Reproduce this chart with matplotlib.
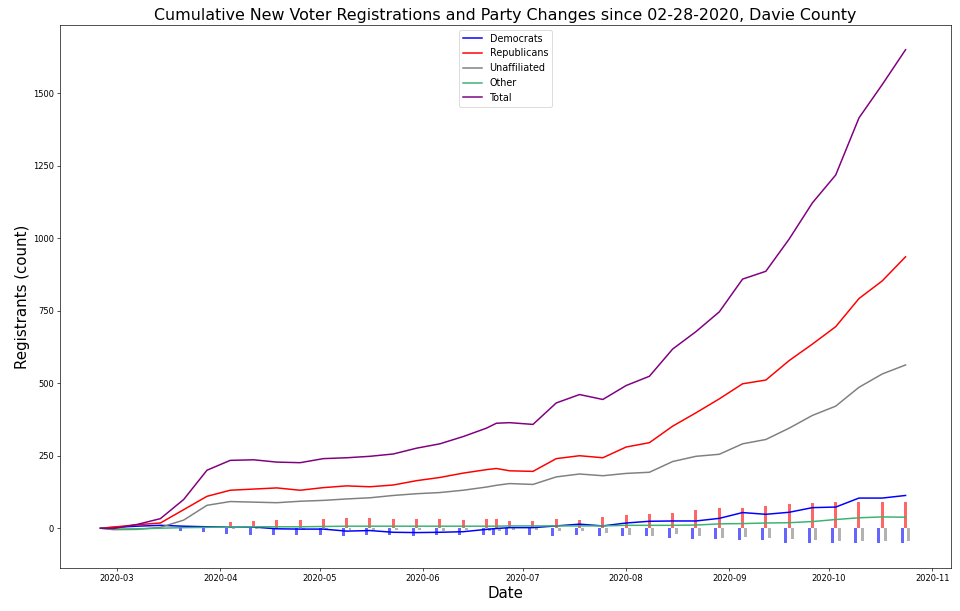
import numpy as np
import pandas as pd
import matplotlib
matplotlib.use("Agg")
import matplotlib.pyplot as plt

# snapshot dates
dates = pd.to_datetime([
    '2020-02-25', '2020-02-29', '2020-03-07', '2020-03-14', '2020-03-21', '2020-03-28',
    '2020-04-04', '2020-04-11', '2020-04-18', '2020-04-25', '2020-05-02', '2020-05-09',
    '2020-05-16', '2020-05-23', '2020-05-30', '2020-06-06', '2020-06-13', '2020-06-20',
    '2020-06-23', '2020-06-27', '2020-07-04', '2020-07-11', '2020-07-18', '2020-07-25',
    '2020-08-01', '2020-08-08', '2020-08-15', '2020-08-22', '2020-08-29', '2020-09-05',
    '2020-09-12', '2020-09-19', '2020-09-26', '2020-10-03', '2020-10-10', '2020-10-17',
    '2020-10-24'])

# cumulative new registrations
democrats = [0, 3, 7, 10, 7, 5, 5, 4, -2, -3, -3, -10, -8, -14, -15, -14, -12, -4, -1, 2,
             2, 8, 14, 8, 18, 24, 25, 25, 34, 54, 48, 55, 71, 73, 104, 104, 113]
republicans = [0, 4, 12, 18, 64, 110, 131, 135, 139, 131, 140, 146, 143, 149, 164, 175, 190,
               202, 206, 198, 196, 240, 250, 243, 280, 295, 352, 398, 446, 498, 511, 578,
               635, 695, 792, 853, 936]
unaffiliated = [0, -5, -4, 3, 28, 79, 92, 90, 88, 93, 96, 101, 105, 113, 119, 123, 131, 142,
                148, 154, 151, 177, 187, 181, 189, 193, 230, 248, 255, 291, 306, 345, 389,
                421, 486, 532, 563]
other = [0, -3, -2, 0, 2, 3, 5, 5, 5, 5, 6, 7, 7, 7, 7, 7, 7, 7, 7, 8, 8, 8, 8, 8, 10, 10,
         10, 11, 15, 16, 18, 19, 23, 30, 36, 39, 38]
total = [0, -1, 13, 33, 99, 200, 234, 236, 228, 226, 240, 243, 248, 256, 276, 291, 316, 345,
         362, 364, 358, 432, 461, 444, 492, 524, 618, 678, 746, 859, 886, 997, 1122, 1218,
         1415, 1530, 1650]

# party changes (bars), from 2020-03-21 on
chg_dates = dates[4:]
chg_dem = [-10, -14, -21, -24, -24, -24, -24, -28, -24, -24, -28, -24, -24, -24,
           -24, -24, -24, -28, -24, -28, -28, -28, -34, -38, -38, -41, -41, -52, -52, -52,
           -52, -52, -52]
chg_rep = [0, 0, 21, 24, 28, 28, 31, 34, 34, 31, 31, 31, 28, 31, 31, 24, 24, 31,
           28, 38, 45, 48, 52, 62, 69, 69, 76, 83, 86, 89, 89, 89, 89]
chg_una = [0, 0, -3, -3, -2, -7, -3, -7, -7, -7, -7, -10, -7, -10, -10, -7, -7,
           -10, -10, -17, -24, -28, -21, -28, -34, -31, -34, -38, -41, -45, -45, -45, -45]

fig = plt.figure(figsize=(16, 611 / 60), dpi=60)
ax = fig.add_axes([0.0625, 0.0704, 0.928, 0.8886])

day = pd.Timedelta(days=1)
ax.bar(chg_dates - day, chg_dem, width=0.9, color='blue', alpha=0.6)
ax.bar(chg_dates, chg_rep, width=0.9, color='red', alpha=0.6)
ax.bar(chg_dates + day, chg_una, width=0.9, color='grey', alpha=0.6)

lw = 1.8
ax.plot(dates, democrats, color='blue', lw=lw, label='Democrats')
ax.plot(dates, republicans, color='red', lw=lw, label='Republicans')
ax.plot(dates, unaffiliated, color='grey', lw=lw, label='Unaffiliated')
ax.plot(dates, other, color='mediumseagreen', lw=lw, label='Other')
ax.plot(dates, total, color='purple', lw=lw, label='Total')

ax.set_title('Cumulative New Voter Registrations and Party Changes since 02-28-2020, Davie County',
             fontsize=19)
ax.set_xlabel('Date', fontsize=18)
ax.set_ylabel('Registrants (count)', fontsize=18)
ax.legend(loc='upper center', fontsize=11.5)

fig.savefig('out.png', dpi=60)
